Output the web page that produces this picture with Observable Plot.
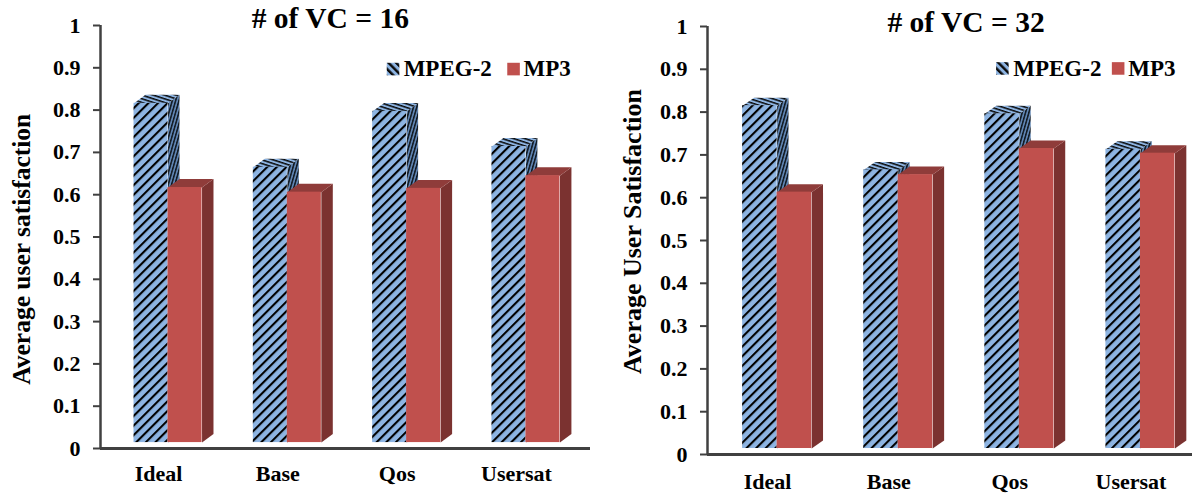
<!DOCTYPE html>
<html>
<head>
<meta charset="utf-8">
<script src="https://cdn.jsdelivr.net/npm/d3@7"></script>
<script src="https://cdn.jsdelivr.net/npm/@observablehq/plot@0.6"></script>
<style>
  html, body { margin: 0; padding: 0; background: #fff; }
  #charts { display: flex; width: 1195px; height: 493px; overflow: hidden; }
  svg { display: block; flex: none; }
</style>
</head>
<body>
<div id="charts"></div>
<script>
// Average user satisfaction per scheme, for 16 and 32 virtual channels.
const categories = ["Ideal", "Base", "Qos", "Usersat"];
const seriesNames = ["MPEG-2", "MP3"];
const yTicks = [0, 0.1, 0.2, 0.3, 0.4, 0.5, 0.6, 0.7, 0.8, 0.9, 1];

const mpeg16 = [0.816, 0.665, 0.797, 0.714];
const mp316 = [0.617, 0.606, 0.615, 0.645];
const mpeg32 = [0.815, 0.665, 0.796, 0.713];
const mp332 = [0.613, 0.654, 0.715, 0.704];

const barWidth = 0.285;
const blue = "#8DB4E2";
const red = "#C0504D";
const redTop = "#8F3C3A";
const redSide = "#7B3230";
const axisColor = "#404040";
const serif = "'Liberation Serif', 'Times New Roman', serif";

// Hatch fills: one each for the front, side and top of a 3D bar, plus the key swatch.
function hatchDefs(prefix) {
  return () => {
    const ns = "http://www.w3.org/2000/svg";
    const defs = document.createElementNS(ns, "defs");
    const pattern = (id, size, stripe, angle, bg, fg) => {
      const p = document.createElementNS(ns, "pattern");
      p.setAttribute("id", prefix + id);
      p.setAttribute("patternUnits", "userSpaceOnUse");
      p.setAttribute("width", size);
      p.setAttribute("height", size);
      p.setAttribute("patternTransform", `rotate(${angle})`);
      const back = document.createElementNS(ns, "rect");
      back.setAttribute("width", size);
      back.setAttribute("height", size);
      back.setAttribute("fill", bg);
      const line = document.createElementNS(ns, "rect");
      line.setAttribute("width", stripe);
      line.setAttribute("height", size);
      line.setAttribute("fill", fg);
      p.append(back, line);
      defs.append(p);
    };
    pattern("front", 6.8, 2.1, 45, blue, "#000");
    pattern("side", 3.2, 1.5, 16, "#5F84B2", "#10181F");
    pattern("top", 3.5, 1.5, 108, blue, "#0A0A0A");
    pattern("key", 5.4, 2.4, -45, blue, "#0A0A0A");
    return defs;
  };
}

function drawPanel(cfg) {
  const {title, yLabel, mpeg, mp3, prefix, depthX, depthY, floor} = cfg;

  const front = (values, from) => values.map((v, i) => ({
    x1: i + from, x2: i + from + barWidth, y1: floor, y2: v
  }));
  // Parallelograms for the receding faces, expressed in chart units.
  const side = (values, from) => values.flatMap((v, i) => {
    const x = i + from + barWidth;
    return [[x, floor], [x + depthX, floor + depthY], [x + depthX, v + depthY], [x, v]]
      .map(([px, py]) => ({px, py, id: i}));
  });
  const top = (values, from) => values.flatMap((v, i) => {
    const x = i + from;
    return [[x, v], [x + depthX, v + depthY], [x + barWidth + depthX, v + depthY], [x + barWidth, v]]
      .map(([px, py]) => ({px, py, id: i}));
  });
  const face = (data, fill) => Plot.line(data, {x: "px", y: "py", z: "id", fill, stroke: "none"});

  return Plot.plot({
    width: cfg.width,
    height: 493,
    marginLeft: cfg.xRange[0],
    marginRight: cfg.width - cfg.xRange[1],
    marginTop: cfg.yRange[1],
    marginBottom: 493 - cfg.yRange[0],
    style: {fontFamily: serif, background: "#fff", color: "#000", overflow: "visible"},
    x: {domain: cfg.xDomain, range: cfg.xRange},
    y: {domain: [0, 1], range: cfg.yRange},
    marks: [
      hatchDefs(prefix),
      Plot.axisY({
        ticks: yTicks, tickSize: 7, tickPadding: 13, tickFormat: d => String(d),
        label: null, stroke: axisColor, strokeWidth: 2,
        fontSize: 22, fontWeight: "bold", fill: "#000"
      }),
      Plot.axisX({
        ticks: [0, 1, 2, 3], tickSize: 0, tickPadding: cfg.xPad, label: null,
        tickFormat: i => categories[i], dx: cfg.xLabelShift,
        fontSize: 22, fontWeight: "bold", fill: "#000"
      }),
      Plot.ruleX([cfg.xDomain[0]], {stroke: axisColor, strokeWidth: 2.5}),
      Plot.ruleY([0], {stroke: axisColor, strokeWidth: 2.8}),

      face(side(mpeg, -barWidth), `url(#${prefix}side)`),
      face(top(mpeg, -barWidth), `url(#${prefix}top)`),
      Plot.rect(front(mpeg, -barWidth), {x1: "x1", x2: "x2", y1: "y1", y2: "y2", fill: `url(#${prefix}front)`}),
      face(side(mp3, 0), redSide),
      face(top(mp3, 0), redTop),
      Plot.rect(front(mp3, 0), {x1: "x1", x2: "x2", y1: "y1", y2: "y2", fill: red}),

      // Chart title and y axis title
      Plot.text([title], {
        x: cfg.titleX, y: 1, text: d => d, dy: cfg.titleDy,
        fontSize: 29.5, fontWeight: "bold", fill: "#000"
      }),
      Plot.text([yLabel], {
        frameAnchor: "left", textAnchor: "middle", y: cfg.yLabelAt, dx: cfg.yLabelDx, rotate: -90, text: d => d,
        fontSize: cfg.yLabelSize, fontWeight: "bold", fill: "#000"
      }),

      // Key
      Plot.dot([0], {
        x: cfg.keyX[0], y: cfg.keyY, symbol: "square", r: 7.1, fill: `url(#${prefix}key)`, stroke: "none"
      }),
      Plot.text([seriesNames[0]], {
        x: cfg.keyX[1], y: cfg.keyY, text: d => d, textAnchor: "start",
        fontSize: 23, fontWeight: "bold", fill: "#000"
      }),
      Plot.dot([0], {
        x: cfg.keyX[2], y: cfg.keyY, symbol: "square", r: 7.1, fill: red, stroke: "none"
      }),
      Plot.text([seriesNames[1]], {
        x: cfg.keyX[3], y: cfg.keyY, text: d => d, textAnchor: "start",
        fontSize: 23, fontWeight: "bold", fill: "#000"
      })
    ]
  });
}

const host = document.getElementById("charts");
host.append(
  drawPanel({
    title: "# of VC = 16", yLabel: "Average user satisfaction", mpeg: mpeg16, mp3: mp316, prefix: "a",
    width: 597, xRange: [100, 590], yRange: [448, 25],
    xDomain: [-0.566, 3.541], depthX: 0.096, depthY: 0.02, floor: 0.014,
    xPad: 17, xLabelShift: -9.5,
    titleX: 1.36, titleDy: -7, yLabelAt: 0.471, yLabelDx: -79, yLabelSize: 25.5,
    keyX: [1.886, 1.975, 2.896, 2.98], keyY: 0.897
  }),
  drawPanel({
    title: "# of VC = 32", yLabel: "Average User Satisfaction", mpeg: mpeg32, mp3: mp332, prefix: "b",
    width: 598, xRange: [110, 595], yRange: [454, 26],
    xDomain: [-0.575, 3.43], depthX: 0.094, depthY: 0.0187, floor: 0.014,
    xPad: 19, xLabelShift: -9.5,
    titleX: 1.56, titleDy: -4, yLabelAt: 0.521, yLabelDx: -75, yLabelSize: 26,
    keyX: [1.86, 1.95, 2.816, 2.9], keyY: 0.902
  })
);
</script>
</body>
</html>
